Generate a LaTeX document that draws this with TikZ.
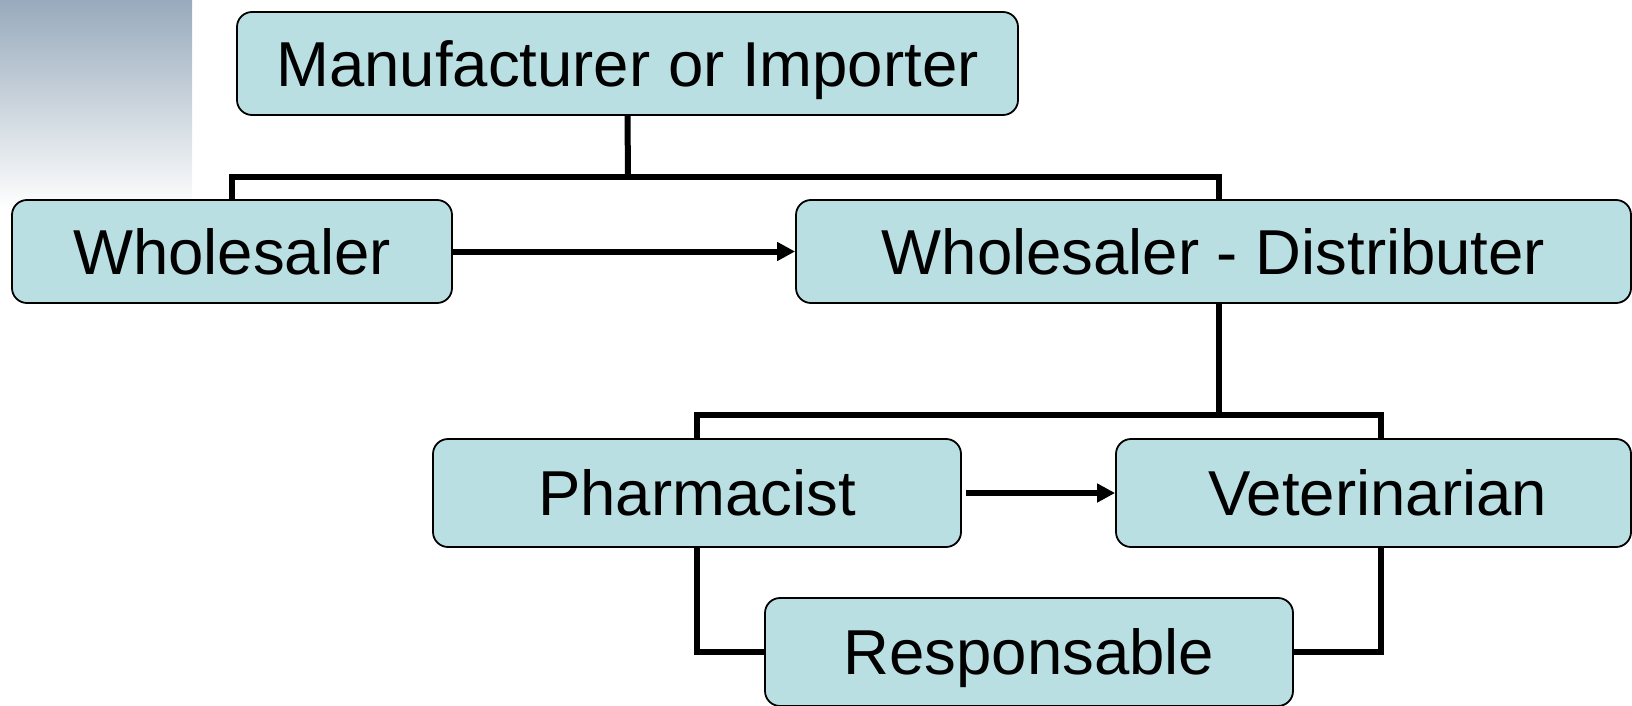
\documentclass[tikz,border=0pt]{standalone}
\usepackage{fontspec}
\setmainfont{Liberation Sans}
\usepackage{tikz}
\usetikzlibrary{positioning, arrows.meta, shapes}
\definecolor{boxfill}{RGB}{186,223,227}
\definecolor{fadetop}{RGB}{152,170,188}
\tikzset{
      chain box/.style={
		fill=boxfill,
		draw=black,
		line width=1.8pt,
		rounded corners=15pt,
		inner sep=0pt,
		minimum width={#1pt},
		minimum height={103pt},
		text height=45.5pt, % caps sit in the middle of the box
		text depth=0pt,
		font=\fontsize{63.5}{70}\selectfont,
	  },
  		link/.style={
    	line width=6pt,
      },
  		flow/.style={
    	line width=6pt,
		-{Triangle[length=18pt,width=18pt]},
      }
  	}

\begin{document}
\begin{tikzpicture}[x=1pt, y=-1pt]
    \useasboundingbox (0,0) rectangle (1632,706);
    \shade [top color=fadetop, bottom color=white] (0,0) rectangle (192,210);
    \node [chain box=781] (maker) at (627.5,63.5) {Manufacturer or Importer};
    \node [chain box=440] (whole) at (232,251.5) {Wholesaler};
    \node [chain box=835] (distr) at (1213.5,251.5) {Wholesaler - Distributer};
    \node [chain box=528, minimum height=108pt] (pharm) at (697,493) {Pharmacist};
    \node [chain box=515, minimum height=108pt] (vet) at (1373.5,493) {\hspace{8pt}Veterinarian};
    \node [chain box=528, minimum height=108pt] (resp) at (1029,652) {Responsable};
    \coordinate (mfork) at (628,177);
    \coordinate (dfork) at (1219,415);
    \coordinate (vfork) at (1381,415);
    \draw [link] (maker.south) -- (mfork);
    \draw [link] (whole.north) |- (mfork) -| (dfork |- distr.north);
    \draw [link] (dfork |- distr.south) -- (dfork);
    \draw [link] (pharm.north) |- (dfork) -| (vfork |- vet.north);
    \draw [link] (pharm.south) |- (resp.west);
    \draw [link] (vfork |- vet.south) |- (resp.east);
    \draw [flow] (whole.east) -- (distr.west);
    \draw [flow, shorten <=4pt] (pharm.east) -- (vet.west);
\end{tikzpicture}
\end{document}
